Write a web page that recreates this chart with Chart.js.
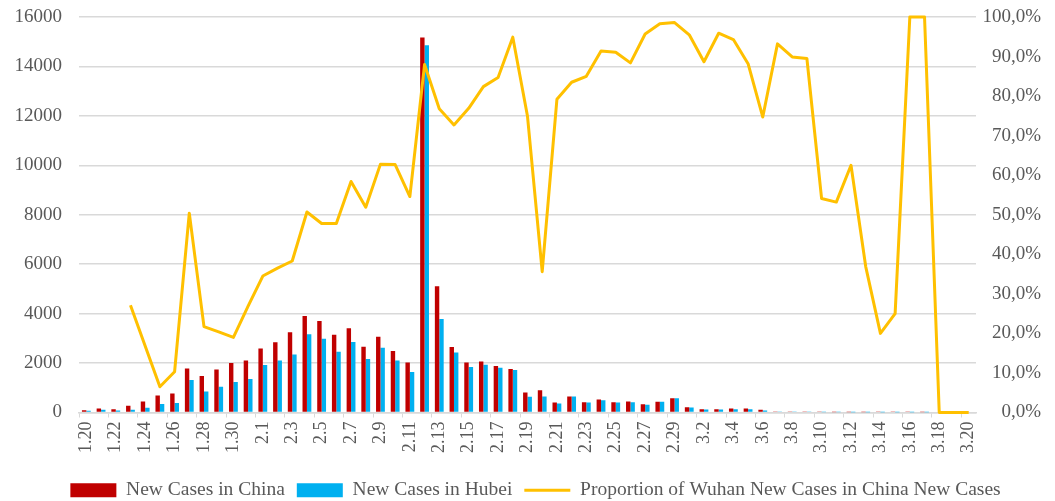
<!DOCTYPE html>
<html>
<head>
<meta charset="utf-8">
<script src="https://cdn.jsdelivr.net/npm/chart.js@4/dist/chart.umd.min.js"></script>
<style>
  html, body { margin: 0; padding: 0; background: #fff; }
  #wrap { width: 1055px; height: 501px; position: relative; }
</style>
</head>
<body>
<div id="wrap"><canvas id="casesChart"></canvas></div>
<script>
// Dates (category axis)
const dates = [
    '1.20', '1.21', '1.22', '1.23', '1.24', '1.25', '1.26', '1.27', '1.28', '1.29', '1.30', '1.31',
    '2.1', '2.2', '2.3', '2.4', '2.5', '2.6', '2.7', '2.8', '2.9', '2.10', '2.11', '2.12', '2.13', '2.14',
    '2.15', '2.16', '2.17', '2.18', '2.19', '2.20', '2.21', '2.22', '2.23', '2.24', '2.25', '2.26', '2.27',
    '2.28', '2.29',
    '3.1', '3.2', '3.3', '3.4', '3.5', '3.6', '3.7', '3.8', '3.9', '3.10', '3.11', '3.12', '3.13', '3.14',
    '3.15', '3.16', '3.17', '3.18', '3.19', '3.20'
];

// New cases in China
const chinaCases = [
    90, 160, 135, 270, 445, 690, 770, 1783, 1473, 1743, 2000, 2108,
    2594, 2837, 3242, 3904, 3702, 3148, 3405, 2661, 3067, 2486, 2027, 15172, 5107, 2648,
    2027, 2067, 1878, 1756, 811, 905, 405, 648, 419, 527, 419, 446, 338, 432, 581,
    216, 135, 135, 162, 162, 108, 45, 40, 20, 25, 15, 10, 12, 20, 16, 21, 13, 34, 39, 41
];

// New cases in Hubei
const hubeiCases = [
    75, 110, 80, 110, 190, 340, 380, 1310, 851, 1040, 1229, 1351,
    1918, 2108, 2351, 3161, 2986, 2459, 2851, 2162, 2621, 2108, 1635, 14861, 3783, 2432,
    1837, 1932, 1810, 1716, 635, 648, 365, 648, 405, 500, 405, 419, 311, 432, 581,
    203, 122, 122, 135, 135, 81, 40, 36, 17, 13, 8, 5, 4, 4, 4, 1, 1, 0, 0, 0
];

// Wuhan share of China new cases (%)
const wuhanShare = [
    null, null, null, 27.1, 16.8, 6.5, 10.3, 50.4, 21.7, 20.4, 19.0, 26.9,
    34.5, 36.5, 38.3, 50.7, 47.8, 47.8, 58.4, 51.9, 62.8, 62.7, 54.6, 88.0, 76.8, 72.7,
    76.9, 82.4, 84.7, 94.9, 74.9, 35.6, 79.2, 83.5, 85.0, 91.4, 91.1, 88.4, 95.7, 98.3, 98.6,
    95.5, 88.7, 95.9, 94.3, 88.2, 74.7, 93.2, 89.9, 89.5, 54.1, 53.2, 62.5, 36.9, 20.0,
    25.0, 100, 100, 0, 0, 0
];

const leftTicks = { min: 0, max: 16000, step: 2000 };
const rightTicks = { min: 0, max: 100, step: 10 };

const textColor = '#595959';
const gridColor = '#d9d9d9';
const fontFamily = "'Liberation Serif', 'Times New Roman', serif";

// keep the tick padding from pushing the plot area down
function noVerticalPadding(scale) {
    scale.paddingTop = 0;
    scale.paddingBottom = 0;
}

// nudge the legend a bit to the right, like the original
const legendShift = {
    id: 'legendShift',
    afterLayout(chart) {
        if (chart.legend) {
            chart.legend.left += 15;
            chart.legend.right += 15;
        }
    }
};

document.addEventListener('DOMContentLoaded', () => {
    const ctx = document.getElementById('casesChart').getContext('2d');

    new Chart(ctx, {
        type: 'bar',
        data: {
            labels: dates,
            datasets: [
                {
                    label: 'New Cases in China',
                    data: chinaCases,
                    backgroundColor: '#c00000',
                    borderWidth: 0,
                    yAxisID: 'y',
                    order: 1,
                    categoryPercentage: 0.6,
                    barPercentage: 1.0
                },
                {
                    label: 'New Cases in Hubei',
                    data: hubeiCases,
                    backgroundColor: '#00b0f0',
                    borderWidth: 0,
                    yAxisID: 'y',
                    order: 1,
                    categoryPercentage: 0.6,
                    barPercentage: 1.0
                },
                {
                    type: 'line',
                    label: 'Proportion of Wuhan New Cases in China New Cases',
                    data: wuhanShare,
                    borderColor: '#ffc000',
                    backgroundColor: '#ffc000',
                    borderWidth: 3,
                    pointRadius: 0,
                    tension: 0,
                    borderJoinStyle: 'round',
                    yAxisID: 'y1',
                    order: 0,
                    clip: false
                }
            ]
        },
        plugins: [legendShift],
        options: {
            responsive: true,
            maintainAspectRatio: false,
            animation: false,
            layout: { padding: { top: 17, left: 0, right: 14, bottom: -9 } },
            plugins: {
                tooltip: { enabled: false },
                legend: {
                    position: 'bottom',
                    labels: {
                        usePointStyle: true,
                        pointStyleWidth: 46,
                        boxHeight: 14,
                        padding: 12,
                        color: textColor,
                        font: { family: fontFamily, size: 19.5 },
                        sort: (a, b) => a.datasetIndex - b.datasetIndex,
                        generateLabels: (chart) => {
                            const items = Chart.defaults.plugins.legend.labels.generateLabels(chart);
                            items.forEach(item => {
                                const ds = chart.data.datasets[item.datasetIndex];
                                if (ds.type === 'line') {
                                    item.pointStyle = 'line';
                                    item.lineWidth = 3;
                                    item.strokeStyle = '#ffc000';
                                } else {
                                    item.pointStyle = 'rect';
                                    item.lineWidth = 0;
                                }
                            });
                            return items;
                        }
                    }
                }
            },
            scales: {
                x: {
                    offset: true,
                    grid: {
                        display: true,
                        drawOnChartArea: false,
                        drawTicks: true,
                        tickLength: 5,
                        offset: true,
                        color: (c) => (c.index % 2 === 0 ? gridColor : 'rgba(0,0,0,0)')
                    },
                    border: { display: true, color: gridColor, width: 1.5 },
                    ticks: {
                        autoSkip: false,
                        minRotation: 90,
                        maxRotation: 90,
                        padding: 4,
                        color: textColor,
                        font: { family: fontFamily, size: 18 },
                        callback: (v, i) => (i % 2 === 0 ? dates[i] : '')
                    },
                    afterFit: (scale) => { scale.height = 56; }
                },
                y: {
                    position: 'left',
                    min: leftTicks.min,
                    max: leftTicks.max,
                    grid: { color: gridColor, lineWidth: 1.5, drawTicks: false },
                    border: { display: false },
                    ticks: {
                        stepSize: leftTicks.step,
                        padding: 17,
                        color: textColor,
                        font: { family: fontFamily, size: 19 },
                        callback: (v) => String(v)
                    },
                    afterFit: (scale) => { scale.width = 79; noVerticalPadding(scale); }
                },
                y1: {
                    position: 'right',
                    min: rightTicks.min,
                    max: rightTicks.max,
                    grid: { drawOnChartArea: false, drawTicks: false },
                    border: { display: false },
                    ticks: {
                        stepSize: rightTicks.step,
                        padding: 7,
                        crossAlign: 'far',
                        color: textColor,
                        font: { family: fontFamily, size: 19 },
                        callback: (v) => v.toFixed(1).replace('.', ',') + '%'
                    },
                    afterFit: (scale) => { scale.width = 65; noVerticalPadding(scale); }
                }
            }
        }
    });
});
</script>
</body>
</html>
